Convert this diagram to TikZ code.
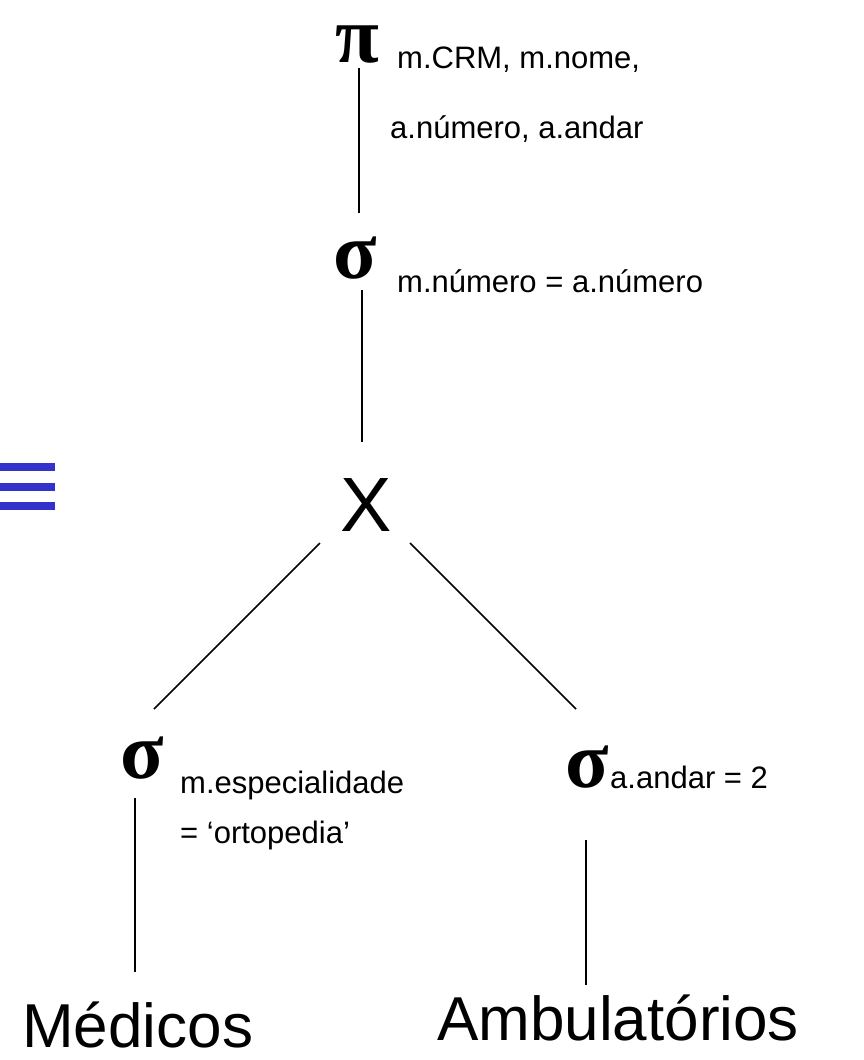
\documentclass[tikz,border=0pt]{standalone}
\usepackage{fontspec}
\setmainfont{Liberation Sans}
\newfontfamily\greekfont{Liberation Serif}
\definecolor{eqblue}{RGB}{51,51,204}
\begin{document}
\begin{tikzpicture}[x=1pt,y=-1pt,
  greek/.style={inner sep=0pt,font=\greekfont\bfseries\fontsize{80}{80}\selectfont},
  lbl/.style={inner sep=0pt,anchor=base west,font=\fontsize{31}{37}\selectfont},
  rel/.style={inner sep=0pt,anchor=base west,font=\fontsize{62}{70}\selectfont},
  edge/.style={line width=1.5pt,black}]
\useasboundingbox (0,0) rectangle (864,1060);
% equivalence sign (cut at left edge)
\fill[eqblue] (0,463) rectangle (55,471);
\fill[eqblue] (0,483) rectangle (55,491);
\fill[eqblue] (0,502) rectangle (55,510);
% operators
\node[greek] (pi) at (357,45) {π};
\node[lbl] (pil1) at (397,68) {m.CRM, m.nome,};
\node[lbl] (pil2) at (390,138) {a.número, a.andar};
\node[greek] (s1) at (355,258) {σ};
\node[lbl] (s1l) at (397,292) {m.número = a.número};
\node[inner sep=0pt,font=\fontsize{77}{77}\selectfont] (x) at (366,505) {X};
\node[greek] (s2) at (142,758) {σ};
\node[lbl] (s2l1) at (180,793) {m.especialidade};
\node[lbl] (s2l2) at (180,843) {= ‘ortopedia’};
\node[greek] (s3) at (587,767) {σ};
\node[lbl] (s3l) at (610,788) {a.andar = 2};
\node[rel] (med) at (22,1047) {Médicos};
\node[rel] (amb) at (437,1040) {Ambulatórios};
% connector end points
\coordinate (pi-s) at (359,68);
\coordinate (s1-n) at (359,213);
\coordinate (s1-s) at (362,290);
\coordinate (x-n) at (362,442);
\coordinate (x-sw) at (320,543);
\coordinate (s2-n) at (154,709);
\coordinate (x-se) at (410,543);
\coordinate (s3-n) at (576,709);
\coordinate (s2-s) at (135,798);
\coordinate (med-n) at (135,972);
\coordinate (s3-s) at (586,840);
\coordinate (amb-n) at (586,985);
\draw[edge] (pi-s) -- (s1-n);
\draw[edge] (s1-s) -- (x-n);
\draw[edge] (x-sw) -- (s2-n);
\draw[edge] (x-se) -- (s3-n);
\draw[edge] (s2-s) -- (med-n);
\draw[edge] (s3-s) -- (amb-n);
\end{tikzpicture}
\end{document}
